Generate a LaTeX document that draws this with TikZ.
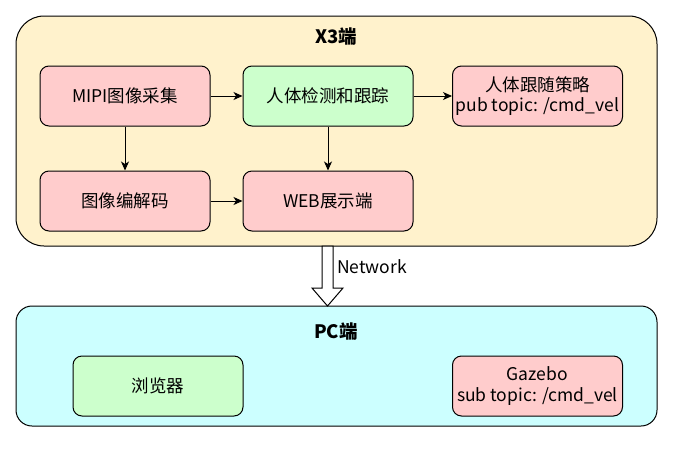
\documentclass[tikz,border=0pt]{standalone}
\usepackage{fontspec}
\setmainfont{Noto Sans CJK SC}
\usetikzlibrary{arrows.meta}
\definecolor{cyel}{HTML}{FFF2CC}
\definecolor{cpink}{HTML}{FFCCCC}
\definecolor{cgreen}{HTML}{CCFFCC}
\definecolor{ccyan}{HTML}{CCFFFF}
\tikzset{
  box/.style={draw=black, line width=1pt, rounded corners=9pt, minimum width=170pt, minimum height=60pt, inner sep=0pt, align=center, font=\fontsize{17.5}{20.5}\selectfont},
  pinkbox/.style={box, fill=cpink},
  greenbox/.style={box, fill=cgreen},
  conn/.style={draw=black, line width=1pt, -{Stealth[length=9pt,width=8pt,inset=2.5pt]}},
  ttl/.style={font=\fontsize{18.5}{20}\selectfont\bfseries},
}
\begin{document}
\begin{tikzpicture}[x=1pt,y=-1pt]
\useasboundingbox (0,0) rectangle (673,448);
% containers
\draw[fill=cyel, line width=1pt, rounded corners=28pt] (16,16) rectangle (657,246);
\draw[fill=ccyan, line width=1pt, rounded corners=16pt] (16,306) rectangle (657,426);
\node[ttl] (x3) at (336,37) {X3端};
\node[ttl] (pc) at (336,332) {PC端};
% boxes
\node[pinkbox] (mipi) at (125,96) {MIPI图像采集};
\node[greenbox] (det) at (328,96) {人体检测和跟踪};
\node[pinkbox] (fol) at (537.5,96) {人体跟随策略\\pub topic: /cmd\_vel};
\node[pinkbox] (enc) at (125,201) {图像编解码};
\node[pinkbox] (web) at (328,201) {WEB展示端};
\node[greenbox] (br) at (158,386) {浏览器};
\node[pinkbox] (gz) at (537.5,386) {Gazebo\\sub topic: /cmd\_vel};
% connectors
\draw[conn] (mipi) -- (det);
\draw[conn] (det) -- (fol);
\draw[conn] (mipi) -- (enc);
\draw[conn] (det) -- (web);
\draw[conn] (enc) -- (web);
% network arrow
\draw[fill=white, line width=1pt, line join=miter] (322,246) -- (333,246) -- (333,288) -- (343,288) -- (327.5,306) -- (312,288) -- (322,288) -- cycle;
\node[anchor=west, font=\fontsize{17.5}{20}\selectfont, inner sep=0pt] (net) at (337,267) {Network};
\end{tikzpicture}
\end{document}
